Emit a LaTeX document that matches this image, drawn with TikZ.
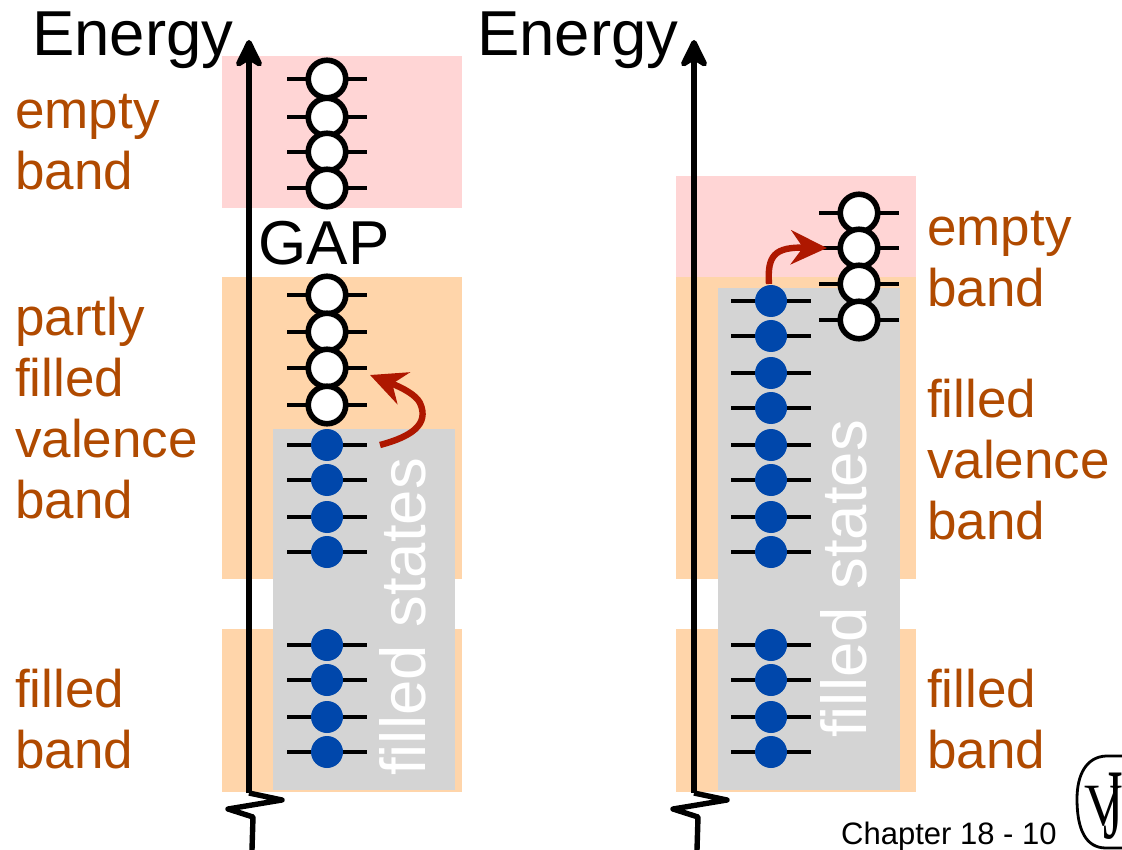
\documentclass[tikz,border=0pt]{standalone}
\usepackage{fontspec}
\setmainfont{Liberation Sans}
\newfontfamily\serifbit{Liberation Serif}
\usetikzlibrary{arrows.meta}
\definecolor{pinkband}{HTML}{FFD5D5}
\definecolor{orangeband}{HTML}{FFD5AA}
\definecolor{grayband}{HTML}{D4D4D4}
\definecolor{labeltxt}{HTML}{B04A00}
\definecolor{jumpred}{HTML}{AE1700}
\definecolor{stateblue}{HTML}{0047AB}
\tikzset{
  x=1pt,y=-1pt,
  band/.style={fill=#1,draw=none},
  lbl/.style={text=labeltxt,font=\fontsize{53}{61}\selectfont,align=left,anchor=west,inner sep=0pt},
  head/.style={text=black,font=\fontsize{63.5}{63.5}\selectfont,anchor=base west,inner sep=0pt},
  filledlbl/.style={rotate=90,text=white,font=\fontsize{63.5}{64}\selectfont,anchor=base west,inner sep=0pt},
  tick/.style={line width=4.6pt,black},
  emptystate/.style={circle,draw=black,line width=5.6pt,fill=white,minimum size=37.5pt,inner sep=0pt,outer sep=0pt},
  fullstate/.style={circle,draw=none,fill=stateblue,minimum size=32pt,inner sep=0pt},
  axisline/.style={line width=5.4pt,black,line join=round},
  axistip/.style={-{Stealth[length=34pt,width=33pt,inset=10pt,round]}},
  jump/.style={line width=6.4pt,jumpred,-{Stealth[length=36pt,width=34pt,inset=12pt]}},
}
\newcommand{\openstate}[3]{%
  \draw[tick] (#1-40,#2) -- (#1+40,#2);
  \node[emptystate] (#3) at (#1,#2) {};}
\newcommand{\fullst}[3]{%
  \draw[tick] (#1-40,#2) -- (#1+40,#2);
  \node[fullstate] (#3) at (#1,#2) {};}
\begin{document}
\begin{tikzpicture}
\useasboundingbox (0,0) rectangle (1122,850);
% left bands
\fill[band=pinkband] (222,56) rectangle (462,208);
\fill[band=orangeband] (222,277) rectangle (462,579);
\fill[band=orangeband] (222,629) rectangle (462,792);
\fill[band=grayband] (273,429) rectangle (455,790);
% right bands
\fill[band=orangeband] (676,277) rectangle (916,579);
\fill[band=orangeband] (676,629) rectangle (916,792);
\fill[band=pinkband] (676,176) rectangle (916,277);
\fill[band=grayband] (718,288) rectangle (900,790);
% filled-states labels
\node[filledlbl] (fsL) at (425,776) {filled states};
\node[filledlbl] (fsR) at (866,738) {filled states};
% axes
\coordinate (aLb) at (249,793);
\coordinate (aLt) at (249,40);
\coordinate (aRb) at (694,793);
\coordinate (aRt) at (694,40);
\draw[axisline,axistip] (aLb) -- (aLt);
\draw[axisline,axistip] (aRb) -- (aRt);
\draw[axisline] (aLb) -- ++(33,7) -- ++(-54,9) -- ++(25,8) -- (252,850);
\draw[axisline] (aRb) -- ++(33,7) -- ++(-54,9) -- ++(25,8) -- (697,850);
% left states
\openstate{327}{79}{La}\openstate{327}{117}{Lb}\openstate{327}{152}{Lc}\openstate{327}{188}{Ld}
\openstate{327}{295}{Le}\openstate{327}{332}{Lf}\openstate{327}{368}{Lg}\openstate{327}{405}{Lh}
\fullst{327}{445}{Li}\fullst{327}{480}{Lj}\fullst{327}{517}{Lk}\fullst{327}{552}{Ll}
\fullst{327}{645}{Lm}\fullst{327}{680}{Ln}\fullst{327}{717}{Lo}\fullst{327}{752}{Lp}
% right states
\openstate{859}{213}{Ra}\openstate{859}{248}{Rb}\openstate{859}{284}{Rc}\openstate{859}{320}{Rd}
\fullst{771}{301}{Re}\fullst{771}{336}{Rf}\fullst{771}{373}{Rg}\fullst{771}{408}{Rh}
\fullst{771}{445}{Ri}\fullst{771}{480}{Rj}\fullst{771}{517}{Rk}\fullst{771}{552}{Rl}
\fullst{771}{645}{Rm}\fullst{771}{680}{Rn}\fullst{771}{717}{Ro}\fullst{771}{752}{Rp}
% jumps
\coordinate (jLs) at ([xshift=53pt]Li.center);
\coordinate (jLe) at ([xshift=43pt,yshift=-7pt]Lg.center);
\draw[jump] (jLs) .. controls (410,437) and (430,425) .. (420,403) .. controls (416,395) and (403,388) .. (jLe);
\coordinate (jRs) at ([xshift=-2pt,yshift=17pt]Re.center);
\coordinate (jRe) at ([xshift=-32pt]Rb.center);
\draw[jump] (769,284) .. controls (767,255) and (775,247) .. (jRe);
% labels
\node[head] (eL) at (32,56) {Energy};
\node[head] (eR) at (477,56) {Energy};
\node[text=black,font=\fontsize{62}{62}\selectfont,anchor=base,inner sep=0pt] (gap) at (324,265) {GAP};
\node[lbl] (l1) at (15,142) {empty\\band};
\node[lbl] (l2) at (15,408) {partly\\filled\\valence\\band};
\node[lbl] (l3) at (15,719) {filled\\band};
\node[lbl] (r1) at (927,259) {empty\\band};
\node[lbl] (r2) at (927,460) {filled\\valence\\band};
\node[lbl] (r3) at (927,719) {filled\\band};
\node[text=black,font=\fontsize{31}{31}\selectfont,anchor=base west,inner sep=0pt] (ch) at (841,844) {Chapter 18 - 10};
% logo
\draw[line width=2.8pt,black] (1130,756) -- (1106,756) .. controls (1086,757) and (1077,775) .. (1077,799) .. controls (1077,830) and (1086,848) .. (1106,848) -- (1130,848);
\node[font=\serifbit\fontsize{60}{60}\selectfont,inner sep=0pt,anchor=base west,xscale=.88] (logoV) at (1084,825) {V};
\node[font=\serifbit\fontsize{100}{100}\selectfont,inner sep=0pt,anchor=base,xscale=.5] (logoJ) at (1113,838) {J};
\end{tikzpicture}
\end{document}
